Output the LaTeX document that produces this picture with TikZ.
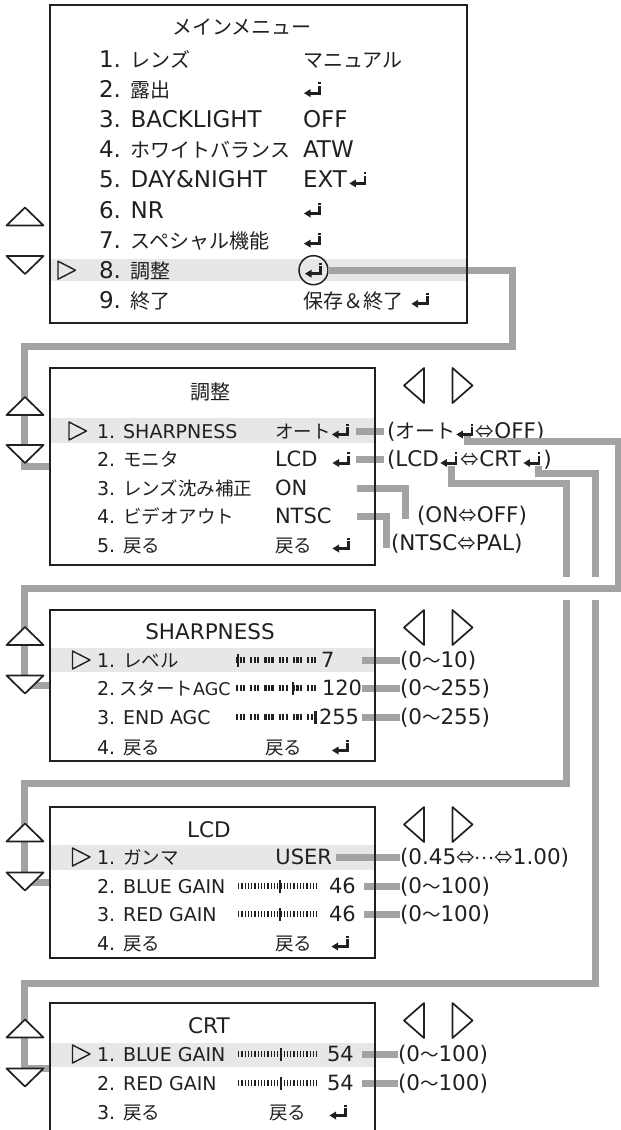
\documentclass[tikz,border=0pt]{standalone}
\usepackage{fontspec}
\setmainfont{Noto Sans CJK JP}
\newfontfamily\dv{DejaVu Sans}
\usetikzlibrary{calc}
\definecolor{txt}{HTML}{231F20}
\definecolor{conn}{HTML}{A3A3A3}
\definecolor{hl}{HTML}{E6E7E6}
\newcommand{\Lm}[1]{{\dv\fontsize{23}{27}\selectfont #1}}
\newcommand{\Ls}[1]{{\dv\fontsize{19}{23}\selectfont #1}}
\newcommand{\Lsn}[1]{{\dv\fontsize{17.5}{21}\selectfont #1}}
\newcommand{\Lv}[1]{{\dv\fontsize{21}{25}\selectfont #1}}
\newcommand{\Lp}[1]{{\dv\fontsize{21.5}{25}\selectfont #1}}
\newcommand{\Lt}[1]{{\dv\fontsize{21.5}{25}\selectfont #1}}
\newcommand{\segslider}[2]{%
  \foreach \g in {0,...,5}{\foreach \k in {0,1,2}{%
    \fill[txt] ({236+\g*14.2+\k*3.5},{#1-3}) rectangle +(2.2,6);}}%
  \fill[txt] ({#2-1.3},{#1-6.5}) rectangle +(2.6,13);%
}
\newcommand{\combslider}[2]{%
  \foreach \i in {0,...,24}{\fill[txt] ({238+\i*3.25},{#1-3.2}) rectangle +(1.3,6.4);}%
  \fill[txt] ({#2-1.3},{#1-6.5}) rectangle +(2.6,13);%
}
\tikzset{
  every node/.style={inner sep=0pt, outer sep=0pt, text=txt},
  mfont/.style={font=\fontsize{20}{24}\selectfont},
  sfont/.style={font=\fontsize{18.5}{22}\selectfont},
  pfont/.style={font=\fontsize{20}{24}\selectfont},
  lbl/.style={anchor=base west},
  lble/.style={anchor=base east},
  menubox/.style={draw=txt, line width=1.3pt, anchor=north west},
  hlband/.style={fill=hl},
  connline/.style={draw=conn, line width=7pt},
  tri/.style={draw=txt, fill=white, line width=1.7pt, line join=round},
  pics/uptri/.style={code={\draw[tri] (-18.5,9) -- (0,-9) -- (18.5,9) -- cycle;}},
  pics/dntri/.style={code={\draw[tri] (-18.5,-9) -- (0,9) -- (18.5,-9) -- cycle;}},
  pics/selmark/.style={code={\draw[txt, line width=1.4pt, line join=round] (-8.5,-9) -- (9,0) -- (-8.5,9) -- cycle;}},
  pics/bigl/.style={code={\draw[txt, line width=1.7pt, line join=round] (10,-17.5) -- (-10,0) -- (10,17.5) -- cycle;}},
  pics/bigr/.style={code={\draw[txt, line width=1.7pt, line join=round] (-10,-17.5) -- (10,0) -- (-10,17.5) -- cycle;}},
  pics/retsym/.style={code={
    \fill[txt] (-8.5,3.5) -- (-2,-0.5) -- (-2,7.5) -- cycle;
    \fill[txt] (-2.5,2) rectangle (8.5,5);
    \fill[txt] (5.8,5) rectangle (8.5,-4);
    \fill[txt] (5.8,-5.5) rectangle (8.5,-7.5);}},
}
\begin{document}
\begin{tikzpicture}[x=1pt,y=-1pt]
\clip (0,0) rectangle (621,1130);
% ---------- highlight bands ----------
\fill[hlband] (50.6,259) rectangle (466.4,281);
\fill[hlband] (50.6,418) rectangle (374.4,443);
\fill[hlband] (50.6,648) rectangle (374.4,672);
\fill[hlband] (50.6,845) rectangle (374.4,870);
\fill[hlband] (50.6,1043) rectangle (374.4,1067);

% ---------- main menu text ----------
\node[mfont] (mtitle) at (242,27) {メインメニュー};
\node[mfont,lbl] (m1) at (99,67.5) {\Lm{1. }レンズ};
\node[mfont,lbl] (v1) at (303,67.5) {マニュアル};
\node[mfont,lbl] (m2) at (99,97.6) {\Lm{2. }露出};
\pic at (312.5,89.6) {retsym};
\node[mfont,lbl] (m3) at (99,127.7) {\Lm{3. BACKLIGHT}};
\node[mfont,lbl] (v3) at (303,127.7) {\Lm{OFF}};
\node[mfont,lbl] (m4) at (99,157.8) {\Lm{4. }ホワイトバランス};
\node[mfont,lbl] (v4) at (303,157.8) {\Lm{ATW}};
\node[mfont,lbl] (m5) at (99,187.9) {\Lm{5. DAY\&NIGHT}};
\node[mfont,lbl] (v5) at (303,187.9) {\Lm{EXT}};
\pic at ($(v5.base east)+(11,-8)$) {retsym};
\node[mfont,lbl] (m6) at (99,218) {\Lm{6. NR}};
\pic at (312.5,210) {retsym};
\node[mfont,lbl] (m7) at (99,248.1) {\Lm{7. }スペシャル機能};
\pic at (312.5,240.1) {retsym};
\node[mfont,lbl] (m8) at (99,278.2) {\Lm{8. }調整};
\node[draw=txt, circle, line width=1.5pt, minimum size=29pt] (circ) at (313.5,270.2) {};
\pic at (313.5,270.2) {retsym};
\node[mfont,lbl] (m9) at (99,308.3) {\Lm{9. }終了};
\node[mfont,lbl] (v9) at (303,308.3) {保存＆終了};
\pic at ($(v9.base east)+(17,-8)$) {retsym};

% ---------- adjust menu text ----------
\node[mfont] (atitle) at (210,392) {調整};
\node[sfont,lbl] (a1) at (97,438) {\Ls{1. SHARPNESS}};
\node[sfont,lbl] (av1) at (275,438) {オート};
\pic at ($(av1.base east)+(10,-7)$) {retsym};
\node[sfont,lbl] (a2) at (97,466.5) {\Ls{2. }モニタ};
\node[sfont,lbl] (av2) at (275,466.5) {\Lv{LCD}};
\pic at (341,459.5) {retsym};
\node[sfont,lbl] (a3) at (97,495) {\Ls{3. }レンズ沈み補正};
\node[sfont,lbl] (av3) at (275,495) {\Lv{ON}};
\node[sfont,lbl] (a4) at (97,523.5) {\Ls{4. }ビデオアウト};
\node[sfont,lbl] (av4) at (275,523.5) {\Lv{NTSC}};
\node[sfont,lbl] (a5) at (97,552) {\Ls{5. }戻る};
\node[sfont,lbl] (av5) at (275,552) {戻る};
\pic at (341,545) {retsym};
% parentheticals
\node[pfont,lbl] (p1a) at (387,438) {\Lp{(}オート};
\coordinate (p1r) at ($(p1a.base east)+(9.5,-7)$);
\pic at (p1r) {retsym};
\node[sfont,lbl] (p1b) at ($(p1r)+(11,7)$) {⇔\Lp{OFF)}};
\node[sfont,lbl] (p2a) at (387,466.5) {\Lp{(LCD}};
\coordinate (p2r1) at ($(p2a.base east)+(10,-7)$);
\pic at (p2r1) {retsym};
\node[sfont,lbl] (p2b) at ($(p2r1)+(12,7)$) {⇔\Lp{CRT}};
\coordinate (p2r2) at ($(p2b.base east)+(11,-7)$);
\pic at (p2r2) {retsym};
\node[sfont,lbl] (p2c) at ($(p2r2)+(11.5,7)$) {\Lp{)}};
\node[sfont,lbl] (p3) at (417,522) {\Lp{(ON}⇔\Lp{OFF)}};
\node[sfont,lbl] (p4) at (391,550) {\Lp{(NTSC}⇔\Lp{PAL)}};

% ---------- SHARPNESS menu ----------
\node[sfont] (stitle) at (210,632) {\Lt{SHARPNESS}};
\node[sfont,lbl] (s1) at (97,667) {\Ls{1. }レベル};
\segslider{660}{238}
\node[sfont,lbl] (sv1) at (321,667) {\Lv{7}};
\node[sfont,lbl] (s2) at (97,695) {\Ls{2.\hspace{4pt}}スタート\Lsn{AGC}};
\segslider{688}{293}
\node[sfont,lbl] (sv2) at (322,695) {\Lv{120}};
\node[sfont,lbl] (s3) at (97,724) {\Ls{3. END AGC}};
\segslider{717}{315.5}
\node[sfont,lbl] (sv3) at (319,724) {\Lv{255}};
\node[sfont,lbl] (s4) at (97,754) {\Ls{4. }戻る};
\node[sfont,lbl] (sv4) at (265,754) {戻る};
\pic at (340.5,747) {retsym};
\node[sfont,lbl] (sp1) at (400,667) {\Lp{(0}～\Lp{10)}};
\node[sfont,lbl] (sp2) at (400,695) {\Lp{(0}～\Lp{255)}};
\node[sfont,lbl] (sp3) at (400,724) {\Lp{(0}～\Lp{255)}};

% ---------- LCD menu ----------
\node[sfont] (ltitle) at (209,830) {\Lt{LCD}};
\node[sfont,lbl] (l1) at (97,864) {\Ls{1. }ガンマ};
\node[sfont,lble] (lv1) at (332,864) {\Lv{USER}};
\node[sfont,lbl] (l2) at (97,893) {\Ls{2. BLUE GAIN}};
\combslider{886}{280}
\node[sfont,lbl] (lv2) at (329,893) {\Lv{46}};
\node[sfont,lbl] (l3) at (97,921) {\Ls{3. RED GAIN}};
\combslider{914}{280}
\node[sfont,lbl] (lv3) at (329,921) {\Lv{46}};
\node[sfont,lbl] (l4) at (97,950) {\Ls{4. }戻る};
\node[sfont,lbl] (lv4) at (275,950) {戻る};
\pic at (340,943) {retsym};
\node[sfont,lbl] (lp1) at (400,864) {\Lp{(0.45}⇔\raisebox{5pt}{…}⇔\Lp{1.00)}};
\node[sfont,lbl] (lp2) at (400,893) {\Lp{(0}～\Lp{100)}};
\node[sfont,lbl] (lp3) at (400,921) {\Lp{(0}～\Lp{100)}};

% ---------- CRT menu ----------
\node[sfont] (ctitle) at (209,1026) {\Lt{CRT}};
\node[sfont,lbl] (c1) at (97,1061) {\Ls{1. BLUE GAIN}};
\combslider{1054}{281}
\node[sfont,lbl] (cv1) at (327,1061) {\Lv{54}};
\node[sfont,lbl] (c2) at (97,1090) {\Ls{2. RED GAIN}};
\combslider{1083}{281}
\node[sfont,lbl] (cv2) at (327,1090) {\Lv{54}};
\node[sfont,lbl] (c3) at (97,1119) {\Ls{3. }戻る};
\node[sfont,lbl] (cv3) at (269,1119) {戻る};
\pic at (338,1112) {retsym};
\node[sfont,lbl] (cp1) at (398,1061) {\Lp{(0}～\Lp{100)}};
\node[sfont,lbl] (cp2) at (398,1090) {\Lp{(0}～\Lp{100)}};

% ---------- connectors ----------
\coordinate (j1) at (512,270.2);
\coordinate (j2) at (512,346);
\coordinate (j3) at (24.5,346);
\coordinate (j4) at (24.5,466);
\coordinate (j5) at (50,466);
\draw[connline] (circ.east) -- (j1) -- (j2) -- (j3) -- (j4) -- (j5);

\coordinate (lc0) at ($(p2r1)+(3,6)$);
\coordinate (lc2) at (566.5,483);
\coordinate (lc1) at (lc0 |- lc2);
\coordinate (lc3) at (566.5,783);
\coordinate (lc4) at (24.5,783);
\coordinate (lc5) at (24.5,882);
\coordinate (lc6) at (50,882);
\draw[connline] (lc0) -- (lc1) -- (lc2) -- (lc3) -- (lc4) -- (lc5) -- (lc6);

\coordinate (cr0) at ($(p2r2)+(7,6)$);
\coordinate (cr2) at (595,473.5);
\coordinate (cr1) at (cr0 |- cr2);
\coordinate (cr3) at (595,983);
\coordinate (cr4) at (24.5,983);
\coordinate (cr5) at (24.5,1068);
\coordinate (cr6) at (50,1068);
\draw[connline] (cr0) -- (cr1) -- (cr2) -- (cr3) -- (cr4) -- (cr5) -- (cr6);

\draw[white, line width=23pt] (555,588) -- (606,588);
\coordinate (sh0) at ($(p1r)+(3,5)$);
\coordinate (sh2) at (618,441.5);
\coordinate (sh1) at (sh0 |- sh2);
\coordinate (sh3) at (618,588);
\coordinate (sh4) at (24.5,588);
\coordinate (sh5) at (24.5,685);
\coordinate (sh6) at (50,685);
\draw[connline] (sh0) -- (sh1) -- (sh2) -- (sh3) -- (sh4) -- (sh5) -- (sh6);

% stubs
\coordinate (t1a) at (356,431);   \coordinate (t1b) at (384,431);
\coordinate (t2a) at (356,459.5); \coordinate (t2b) at (384,459.5);
\draw[connline] (t1a) -- (t1b);
\draw[connline] (t2a) -- (t2b);
\coordinate (on0) at (357,488); \coordinate (on1) at (405,488); \coordinate (on2) at (405,519);
\draw[connline] (on0) -- (on1) -- (on2);
\coordinate (nt0) at (357,516.5); \coordinate (nt1) at (386,516.5); \coordinate (nt2) at (386,548);
\draw[connline] (nt0) -- (nt1) -- (nt2);
\foreach \yy in {660,688,717}{\draw[connline] (362,\yy) -- (sp1.west |- 0,\yy);}
\draw[connline] (336,857) -- (lp1.west |- 0,857);
\foreach \yy in {886,914}{\draw[connline] (364,\yy) -- (lp2.west |- 0,\yy);}
\foreach \yy in {1054,1083}{\draw[connline] (362,\yy) -- (cp1.west |- 0,\yy);}

% ---------- boxes ----------
\node[menubox, minimum width=417pt, minimum height=318pt] (mainbox) at (50,5) {};
\node[menubox, minimum width=325pt, minimum height=197pt] (adjbox) at (50,368) {};
\node[menubox, minimum width=325pt, minimum height=151pt] (shbox) at (50,610) {};
\node[menubox, minimum width=325pt, minimum height=151pt] (lcdbox) at (50,807) {};
\node[menubox, minimum width=325pt, minimum height=140pt] (crtbox) at (50,1003) {};

% ---------- symbols ----------
\pic at (25,216.5) {uptri}; \pic at (25,265) {dntri}; \pic at (66.5,270.2) {selmark};
\pic at (25,406) {uptri}; \pic at (25,454) {dntri}; \pic at (77.5,431) {selmark};
\pic at (414,385.5) {bigl}; \pic at (462.5,385.5) {bigr};
\pic at (25,636) {uptri}; \pic at (25,684.5) {dntri}; \pic at (81,660) {selmark};
\pic at (414,627.5) {bigl}; \pic at (462.5,627.5) {bigr};
\pic at (25,832.5) {uptri}; \pic at (25,881.5) {dntri}; \pic at (81,857) {selmark};
\pic at (414,824.5) {bigl}; \pic at (462.5,824.5) {bigr};
\pic at (25,1028.5) {uptri}; \pic at (25,1077.5) {dntri}; \pic at (81,1054) {selmark};
\pic at (414,1020.5) {bigl}; \pic at (462.5,1020.5) {bigr};
\end{tikzpicture}
\end{document}
